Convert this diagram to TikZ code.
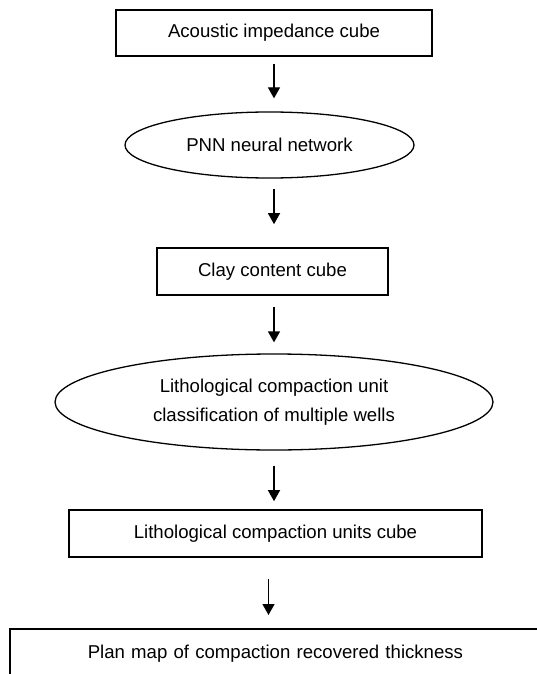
\documentclass[tikz,border=0pt]{standalone}
\usepackage{fontspec}
\setmainfont{Liberation Sans}
\usetikzlibrary{arrows.meta,shapes.geometric}
\tikzset{>={Triangle[length=11pt,width=12pt]}}
\tikzset{
  boxstep/.style={draw,line width=1.6pt,inner sep=0pt,font=\fontsize{18.6}{29}\selectfont},
  ovalstep/.style={draw,ellipse,line width=1.3pt,inner sep=0pt,align=center,font=\fontsize{18.6}{29}\selectfont},
  flow/.style={->,line width=1.3pt}
}

\begin{document}
\begin{tikzpicture}[x=1pt,y=-1pt]
  \useasboundingbox (0,0) rectangle (536,674);
  % Steps
  \node[boxstep,minimum width=316pt,minimum height=46pt] (cube) at (274,33) {Acoustic impedance cube};
  \node[ovalstep,minimum width=289pt,minimum height=66pt] (pnn) at (269.5,145) {PNN neural network};
  \node[boxstep,minimum width=231pt,minimum height=47pt] (clay) at (272.5,271.5) {Clay content cube};
  \node[ovalstep,minimum width=438pt,minimum height=96pt] (litho) at (274,402) {Lithological compaction unit\\classification of multiple wells};
  \node[boxstep,minimum width=413pt,minimum height=47pt] (units) at (275.5,533.5) {Lithological compaction units cube};
  \node[boxstep,anchor=north west,text width=470pt,inner xsep=78pt,minimum height=50pt] (map) at (9,628) {Plan map of compaction recovered thickness};
  % Arrows
  \draw[flow,shorten <=7pt,shorten >=13pt] (cube.south) -- (cube.south |- pnn.north);
  \draw[flow,shorten <=10pt,shorten >=23pt] (cube.south |- pnn.south) -- (cube.south |- clay.north);
  \draw[flow,shorten <=11pt,shorten >=11pt] (cube.south |- clay.south) -- (litho.north);
  \draw[flow,shorten <=15pt,shorten >=8pt] (litho.south) -- (litho.south |- units.north);
  \draw[flow,shorten <=21pt,shorten >=13pt] ([xshift=-7pt]units.south) -- ([xshift=-7pt]units.south |- map.north);
\end{tikzpicture}
\end{document}
